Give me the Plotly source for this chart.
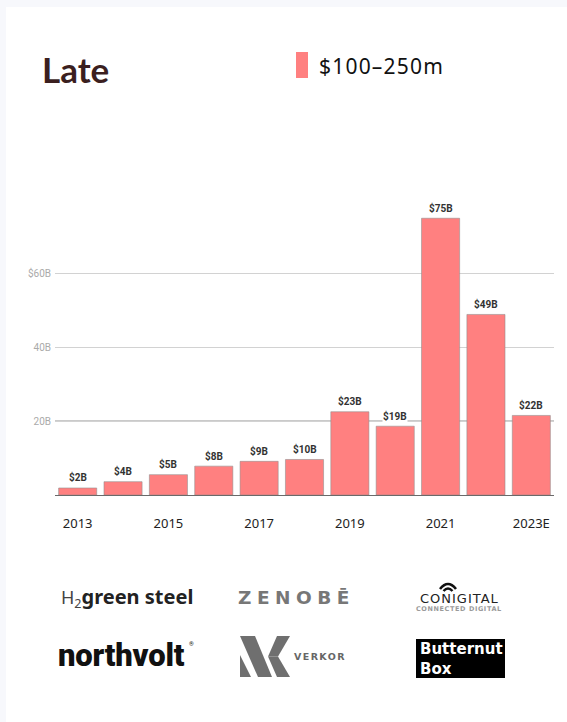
import plotly.graph_objects as go

# ---------------- data ----------------
years = ["2013", "2014", "2015", "2016", "2017", "2018", "2019", "2020", "2021", "2022", "2023E"]
values = [1.9, 3.6, 5.5, 7.8, 9.1, 9.6, 22.5, 18.6, 74.8, 48.8, 21.5]
bar_labels = ["$2B", "$4B", "$5B", "$8B", "$9B", "$10B", "$23B", "$19B", "$75B", "$49B", "$22B"]
x_tickvals = ["2013", "2015", "2017", "2019", "2021", "2023E"]
y_tickvals = [20, 40, 60]
y_ticktext = ["20B", "40B", "$60B"]
series_name = "$100–250m"
title_text = "Late"

BAR_COLOR = "#ff8080"

# ---------------- layout helpers (pixel -> paper) ----------------
FW, FH = 567, 722
ML, MR, MT, MB = 55, 13, 199, 227
PW = FW - ML - MR
PH = FH - MT - MB


def fx(px):
    return (px - ML) / PW


def fy(py):
    return (FH - MB - py) / PH


idx = list(range(len(years)))
tick_idx = [years.index(t) for t in x_tickvals]

fig = go.Figure()
fig.add_trace(go.Bar(
    x=idx, y=values, name=series_name,
    marker=dict(color=BAR_COLOR, line=dict(color="rgba(140,140,140,0.55)", width=1)),
    hoverinfo="skip", showlegend=False,
))

shapes = []
annotations = []

# white card on light page background
shapes.append(dict(type="rect", xref="paper", yref="paper", layer="below",
                   x0=fx(6), x1=fx(600), y0=fy(7), y1=fy(760),
                   fillcolor="white", line=dict(width=0)))

# darker 20B gridline
shapes.append(dict(type="line", xref="paper", yref="y", layer="between",
                   x0=0, x1=1, y0=y_tickvals[0], y1=y_tickvals[0],
                   line=dict(color="#b9b9b9", width=1.5)))

# bar value labels
for i, v, lab in zip(idx, values, bar_labels):
    annotations.append(dict(x=i, y=v, xref="x", yref="y", text=lab, showarrow=False,
                            yanchor="middle", yshift=10.5, bgcolor="white", borderpad=0,
                            font=dict(family="Roboto", size=10, color="#333333", weight="bold")))

# title
annotations.append(dict(x=fx(40), y=fy(69), xref="paper", yref="paper", text=title_text,
                        showarrow=False, xanchor="left", yanchor="middle",
                        font=dict(family="Lato", size=35, color="#3b1f1f", weight="bold")))

# legend
shapes.append(dict(type="rect", xref="paper", yref="paper",
                   x0=fx(296), x1=fx(308), y0=fy(52), y1=fy(78),
                   fillcolor=BAR_COLOR, line=dict(width=0)))
annotations.append(dict(x=fx(317), y=fy(66), xref="paper", yref="paper",
                        text="<span style='letter-spacing:1.2px'>" + series_name + "</span>",
                        showarrow=False, xanchor="left", yanchor="middle",
                        font=dict(family="Noto Sans", size=21, color="#111111")))

# ---------------- logos (text approximations) ----------------
annotations.append(dict(x=fx(59), y=fy(597), xref="paper", yref="paper",
                        text="<span style='font-weight:normal;fill:#444;font-size:18px'>H<sub>2</sub></span>"
                             "<b>green steel</b>",
                        showarrow=False, xanchor="left", yanchor="middle",
                        font=dict(family="Noto Sans", size=20, color="#222222")))

annotations.append(dict(x=fx(236), y=fy(597), xref="paper", yref="paper",
                        text="<span style='letter-spacing:5.5px'>ZENOBĒ</span>",
                        showarrow=False, xanchor="left", yanchor="middle",
                        font=dict(family="DejaVu Sans", size=18.5, color="#777777", weight="bold")))

annotations.append(dict(x=fx(459), y=fy(598.5), xref="paper", yref="paper",
                        text="<span style='letter-spacing:1px'>CONIGITAL</span>",
                        showarrow=False, xanchor="center", yanchor="middle",
                        font=dict(family="DejaVu Sans", size=13, color="#222222")))
annotations.append(dict(x=fx(459), y=fy(608.5), xref="paper", yref="paper",
                        text="<span style='letter-spacing:0.6px'>CONNECTED DIGITAL</span>",
                        showarrow=False, xanchor="center", yanchor="middle",
                        font=dict(family="DejaVu Sans", size=6.5, color="#9a9a9a", weight="bold")))
# wifi arcs above the I
for (ax0, ay0, cx, cy, ax1, w) in [(440, 589, 448, 579, 456, 2.6), (443.5, 591, 448, 586, 452.5, 2.4)]:
    shapes.append(dict(type="path", xref="paper", yref="paper",
                       path=f"M {fx(ax0)},{fy(ay0)} Q {fx(cx)},{fy(cy)} {fx(ax1)},{fy(ay0)}",
                       line=dict(color="#111111", width=w)))

annotations.append(dict(x=fx(56), y=fy(655), xref="paper", yref="paper",
                        text="<span style='letter-spacing:-0.2px'>northvolt</span>",
                        showarrow=False, xanchor="left", yanchor="middle",
                        font=dict(family="Roboto", size=31, color="#111111", weight=900)))
annotations.append(dict(x=fx(187), y=fy(643), xref="paper", yref="paper", text="®",
                        showarrow=False, xanchor="left", yanchor="middle",
                        font=dict(family="Roboto", size=6, color="#111111")))

# Verkor mark
VK_GRAY = "#6f6f6f"
verkor_polys = [
    [(240, 636), (255, 636), (272, 677), (258, 677)],
    [(240, 655), (251, 677), (240, 677)],
    [(277, 636), (290, 636), (278, 656.5), (268, 656.5)],
    [(268, 656.5), (278, 656.5), (290, 677), (277, 677)],
]
for poly in verkor_polys:
    p = "M " + " L ".join(f"{fx(a)},{fy(b)}" for a, b in poly) + " Z"
    shapes.append(dict(type="path", xref="paper", yref="paper", path=p,
                       fillcolor=VK_GRAY, line=dict(width=0)))
annotations.append(dict(x=fx(292), y=fy(656), xref="paper", yref="paper",
                        text="<span style='letter-spacing:1.4px'>VERKOR</span>",
                        showarrow=False, xanchor="left", yanchor="middle",
                        font=dict(family="DejaVu Sans", size=9.5, color="#666666", weight="bold")))

# Butternut Box
shapes.append(dict(type="rect", xref="paper", yref="paper",
                   x0=fx(416), x1=fx(505), y0=fy(639), y1=fy(678),
                   fillcolor="#000000", line=dict(width=0)))
annotations.append(dict(x=fx(418), y=fy(658.5), xref="paper", yref="paper",
                        text="Butternut<br>Box", align="left",
                        showarrow=False, xanchor="left", yanchor="middle",
                        font=dict(family="DejaVu Sans", size=15, color="#ffffff", weight="bold")))

fig.update_layout(
    width=FW, height=FH,
    margin=dict(l=ML, r=MR, t=MT, b=MB, pad=0),
    paper_bgcolor="#f7f8fc", plot_bgcolor="white",
    bargap=0.16,
    showlegend=False,
    shapes=shapes, annotations=annotations,
    xaxis=dict(range=[-0.5, len(years) - 0.5],
               tickmode="array", tickvals=tick_idx, ticktext=x_tickvals,
               ticks="", ticklabelstandoff=16, showline=True, linecolor="#6a6a6a", linewidth=1,
               showgrid=False, zeroline=False,
               tickfont=dict(family="Noto Sans", size=13, color="#222222")),
    yaxis=dict(range=[0, 80], tickmode="array", tickvals=y_tickvals, ticktext=y_ticktext,
               ticks="", ticklabelstandoff=3, showgrid=True, gridcolor="#d2d2d2", gridwidth=1,
               zeroline=False, showline=False,
               tickfont=dict(family="Roboto", size=10, color="#aaaaaa")),
)

fig.write_html("out.html")
